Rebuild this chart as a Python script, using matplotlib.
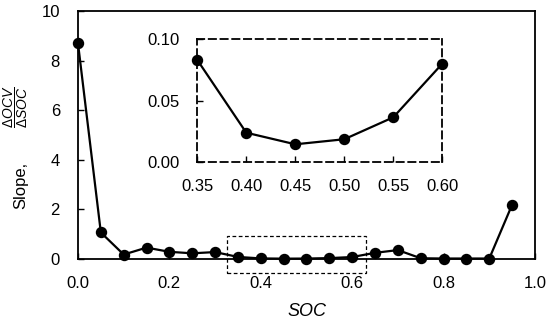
import matplotlib
matplotlib.use("Agg")
import matplotlib.pyplot as plt
from matplotlib.patches import Rectangle

plt.rcParams['font.family'] = ['Liberation Sans', 'DejaVu Sans']
plt.rcParams['mathtext.fontset'] = 'custom'
plt.rcParams['mathtext.rm'] = 'Liberation Sans'
plt.rcParams['mathtext.it'] = 'Liberation Sans:italic'

soc = [0.0, 0.05, 0.10, 0.15, 0.20, 0.25, 0.30, 0.35, 0.40, 0.45, 0.50,
       0.55, 0.60, 0.65, 0.70, 0.75, 0.80, 0.85, 0.90, 0.95]
slope = [8.7, 1.07, 0.18, 0.46, 0.29, 0.23, 0.28, 0.083, 0.024, 0.0146, 0.0187,
         0.0365, 0.080, 0.25, 0.36, 0.03, 0.02, 0.02, 0.02, 2.19]

inset_soc = [0.35, 0.40, 0.45, 0.50, 0.55, 0.60]
inset_slope = [0.083, 0.024, 0.0146, 0.0187, 0.0365, 0.080]

main_xticks = [0.0, 0.2, 0.4, 0.6, 0.8, 1.0]
main_yticks = [0, 2, 4, 6, 8, 10]
inset_xticks = [0.35, 0.40, 0.45, 0.50, 0.55, 0.60]
inset_yticks = [0.00, 0.05, 0.10]

W, H = 550, 321
fig = plt.figure(figsize=(5.5, 3.21), dpi=100)
ax = fig.add_axes([0.1418, 0.1931, 0.8309, 0.7726])
ax.plot(soc, slope, '-o', color='black', lw=1.6, ms=7.2, clip_on=False, zorder=3)
ax.set_xlim(0, 1.0)
ax.set_ylim(0, 10)
ax.set_xticks(main_xticks)
ax.set_xticklabels([f"{v:.1f}" for v in main_xticks])
ax.set_yticks(main_yticks)
ax.tick_params(direction='in', length=4, width=1, labelsize=12)
ax.tick_params(axis='x', pad=12)
ax.tick_params(axis='y', pad=13)
for s in ax.spines.values():
    s.set_linewidth(1.3)
ax.set_xlabel('SOC', fontsize=13, style='italic', labelpad=9)

# y-axis label: "Slope," plus fraction
fig.text(21 / W, 1 - 185 / H, 'Slope,', rotation=90, ha='center', va='center',
         fontsize=12)
fig.text(16 / W, 1 - 106.5 / H,
         r'$\dfrac{\mathit{\Delta OCV}}{\mathit{\Delta SOC}}$',
         rotation=90, ha='center', va='center', fontsize=10)

rect = Rectangle((0.327, -0.55), 0.303, 1.49, fill=False, ls=(0, (3, 2)),
                 lw=0.9, ec='black', clip_on=False, zorder=2)
ax.add_patch(rect)

ins = fig.add_axes([0.3587, 0.4944, 0.4455, 0.3841])
ins.plot(inset_soc, inset_slope, '-o', color='black', lw=1.6, ms=7.2, clip_on=False, zorder=3)
ins.set_xlim(0.35, 0.60)
ins.set_ylim(0, 0.10)
ins.set_xticks(inset_xticks)
ins.set_xticklabels([f"{v:.2f}" for v in inset_xticks])
ins.set_yticks(inset_yticks)
ins.set_yticklabels([f"{v:.2f}" for v in inset_yticks])
ins.tick_params(direction='in', length=4, width=1, labelsize=12)
ins.tick_params(axis='x', pad=12)
ins.tick_params(axis='y', pad=13)
for s in ins.spines.values():
    s.set_linestyle((0, (4, 2.5)))
    s.set_linewidth(1.3)
ins.patch.set_alpha(0)

fig.savefig('out.png', dpi=100)
